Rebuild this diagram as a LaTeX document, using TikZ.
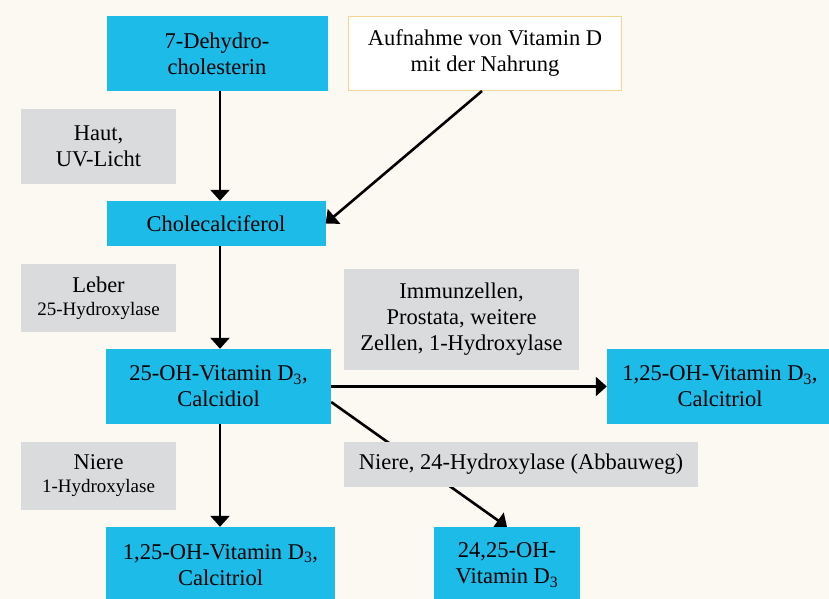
\documentclass[tikz,border=0pt]{standalone}
\usepackage{fontspec}
\setmainfont{Liberation Serif}
\usetikzlibrary{arrows.meta,calc}
\pgfdeclarelayer{back}
\pgfdeclarelayer{bg}
\pgfsetlayers{back,bg,main}
\definecolor{bgc}{HTML}{FCF8F2}
\definecolor{bluebox}{HTML}{1CBBE8}
\definecolor{greybox}{HTML}{DADBDD}
\definecolor{orangeline}{HTML}{F6D593}
\tikzset{
  base/.style={inner sep=0pt, align=center, font=\fontsize{22.5}{26}\selectfont, text=black},
  bluenode/.style={base, fill=bluebox},
  greynode/.style={base, fill=greybox},
  foodnode/.style={base, fill=white, draw=orangeline, line width=1pt},
  arr/.style={line width=2.6pt, -{Triangle[length=11pt,width=19pt]}},
}
\newcommand{\smalltxt}[1]{{\fontsize{19}{21}\selectfont #1}}
\begin{document}
\begin{tikzpicture}[x=1pt,y=-1pt]
\begin{pgfonlayer}{back}
\fill[bgc] (0,0) rectangle (829,599);
\end{pgfonlayer}
\useasboundingbox (0,0) rectangle (829,599);

\node[bluenode, minimum width=221pt, minimum height=75pt] (dhc) at (217,53.5) {7-Dehydro-\\cholesterin};
\node[foodnode, minimum width=273pt, minimum height=74pt] (aufn) at (485,53.5) {Aufnahme von Vitamin D\\mit der Nahrung};
\node[greynode, minimum width=155pt, minimum height=75pt] (haut) at (98.5,146.5) {Haut,\\UV-Licht};
\node[bluenode, minimum width=219pt, minimum height=45pt] (chol) at (216,223.5) {Cholecalciferol};
\node[greynode, minimum width=155pt, minimum height=68pt] (leber) at (98.5,298) {Leber\\[-3pt]\smalltxt{25-Hydroxylase}};
\node[bluenode, minimum width=225pt, minimum height=75pt] (calcidiol) at (218.5,386.5) {25-OH-Vitamin D\textsubscript{3},\\Calcidiol};
\node[greynode, minimum width=155pt, minimum height=68pt] (niere1) at (98.5,476) {Niere\\[-3pt]\smalltxt{1-Hydroxylase}};
\node[bluenode, minimum width=229pt, minimum height=76pt] (calcitriolB) at (220.5,565) {1,25-OH-Vitamin D\textsubscript{3},\\Calcitriol};
\node[greynode, minimum width=235pt, minimum height=101pt] (immun) at (461.5,319.5) {Immunzellen,\\Prostata, weitere\\Zellen, 1-Hydroxylase};
\node[bluenode, minimum width=226pt, minimum height=75pt] (calcitriolR) at (720,386.5) {1,25-OH-Vitamin D\textsubscript{3},\\Calcitriol};
\node[greynode, minimum width=354pt, minimum height=45pt] (niere24) at (521,464.5) {Niere, 24-Hydroxylase (Abbauweg)};
\node[bluenode, minimum width=146pt, minimum height=76pt] (d2425) at (507,565) {24,25-OH-\\Vitamin D\textsubscript{3}};

\draw[arr] (dhc.south -| 220,0) -- (chol.north -| 220,0);
\draw[arr] (aufn.south) ++(-3,0) -- (chol.east);
\draw[arr] (chol.south -| 220,0) -- (calcidiol.north -| 220,0);
\draw[arr] (calcidiol.south -| 220,0) -- (calcitriolB.north -| 220,0);
\draw[arr] (calcidiol.east) -- (calcitriolR.west);
\begin{pgfonlayer}{bg}
\draw[arr] ($(calcidiol.east)+(0,15.5)$) -- (d2425.north);
\end{pgfonlayer}
\end{tikzpicture}
\end{document}
